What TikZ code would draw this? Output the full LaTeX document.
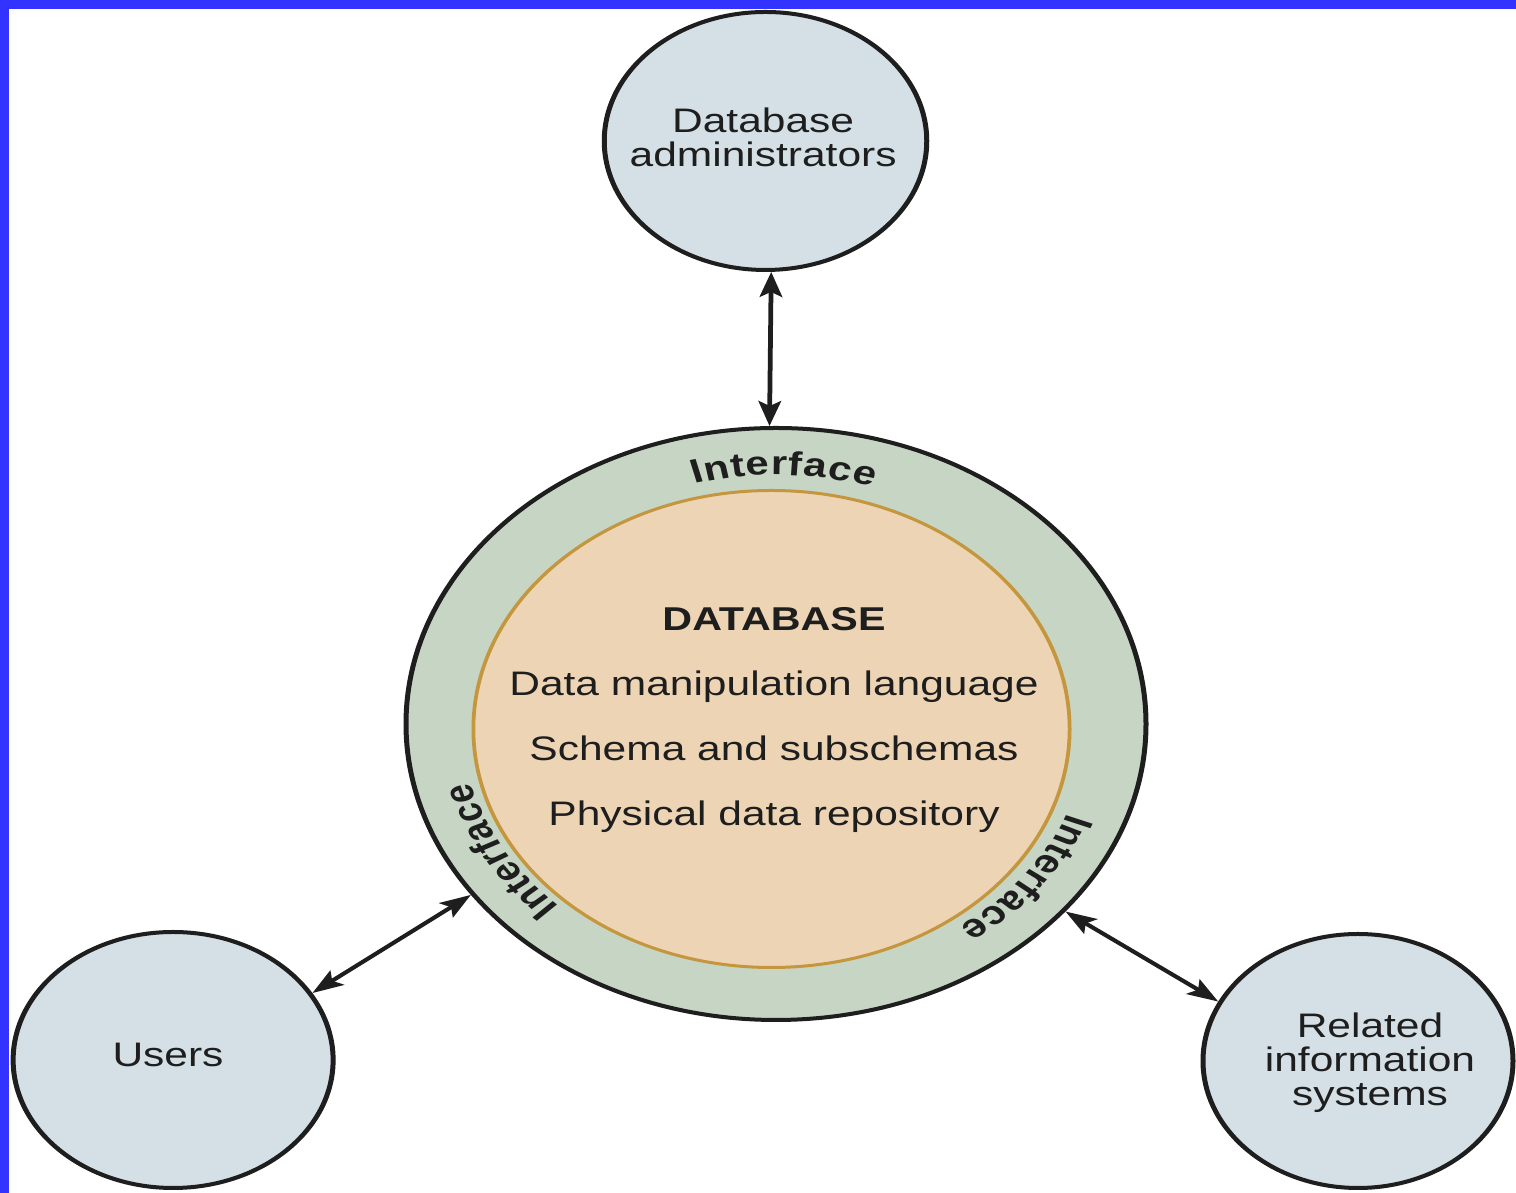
\documentclass[tikz,border=0pt]{standalone}
\usepackage{fontspec}
\setmainfont{Liberation Sans}
\usetikzlibrary{arrows.meta,decorations.text,shapes.geometric}

\definecolor{frame}{RGB}{51,51,255}
\definecolor{actor}{RGB}{212,224,230}
\definecolor{ringfill}{RGB}{199,213,196}
\definecolor{corefill}{RGB}{237,212,180}
\definecolor{rim}{RGB}{196,150,62}
\definecolor{ink}{RGB}{30,30,30}

% bold face used for the words set along the interface ring
\newcommand{\ringfont}{\fontsize{33.5}{36}\selectfont\bfseries\color{ink}}
% the ring caption, lightly letter-spaced
\newcommand{\ringword}{{I\kern0.6pt}{n\kern0.6pt}{t\kern0.6pt}{e\kern0.6pt}{r\kern0.6pt}{f\kern0.6pt}{a\kern0.6pt}{c\kern0.6pt}e}

\begin{document}
\begin{tikzpicture}[
  x=1pt, y=1pt,
  actorbox/.style={draw=ink, line width=4pt, fill=actor, inner sep=0pt},
  link/.style={draw=ink, line width=3.8pt,
    {Stealth[length=25pt,width=18pt,inset=5pt]}-{Stealth[length=25pt,width=18pt,inset=5pt]}},
  lbl/.style={text=ink, font=\fontsize{34}{34}\selectfont, align=center, inner sep=0pt},
  ringtext/.style={decorate,
    decoration={text along path, text align=center, text/.expanded={|\noexpand\ringfont|\ringword}}}
]
\fill[white] (0,0) rectangle (1516,1193);
\useasboundingbox (0,0) rectangle (1516,1193);

% the whole drawing is widened horizontally
\begin{scope}[transform canvas={xscale=1.25}]
  % outer actors
  \node[actorbox, circle, minimum size=258pt] (dba) at (612.4,1052) {};
  \node[actorbox, circle, minimum size=256pt] (users) at (138.5,133) {};
  \node[actorbox, ellipse, minimum width=248pt, minimum height=254pt] (ris) at (1086.4,132) {};

  % database with its interface ring
  \node[circle, draw=ink, line width=4pt, fill=ringfill, minimum size=592pt, inner sep=0pt] (db) at (620.8,469) {};
  \node[circle, draw=rim, line width=3pt, fill=corefill, minimum size=477pt, inner sep=0pt] (core) at (617.2,464) {};
  \coordinate (hub) at (620.8,469);

  % labels
  \node[lbl] (dbaLabel) at (610.5,1055.2) {Database\\administrators};
  \node[lbl, anchor=base] (usersLabel) at (134.4,126) {Users};
  \node[lbl] (risLabel) at (1096,129.8) {Related\\information\\systems};
  \node[text=ink, align=center, inner sep=0pt, font=\fontsize{34}{65}\selectfont] (coreLabel) at (619.2,472.8)
    {{\fontsize{33}{65}\selectfont\bfseries DATABASE}\\Data manipulation language\\Schema and subschemas\\Physical data repository};

  % interface captions along the ring
  \path[ringtext] ([shift={(128.6:249)}]hub) arc[start angle=128.6, end angle=48.6, radius=249pt];
  \path[ringtext] ([shift={(250:251)}]hub) arc[start angle=250, end angle=170, radius=251pt];
  \path[ringtext] ([shift={(2.5:250)}]hub) arc[start angle=2.5, end angle=-77.5, radius=250pt];

  % two-way connectors
  \draw[link] (db.91) -- (dba.-88);
  \draw[link] (db.215) -- (users.31);
  \draw[link] (db.-39) -- (ris.152);
\end{scope}

% page frame on the top and left edges
\fill[frame] (0,1184) rectangle (1516,1193);
\fill[frame] (0,0) rectangle (9,1193);
\end{tikzpicture}
\end{document}
